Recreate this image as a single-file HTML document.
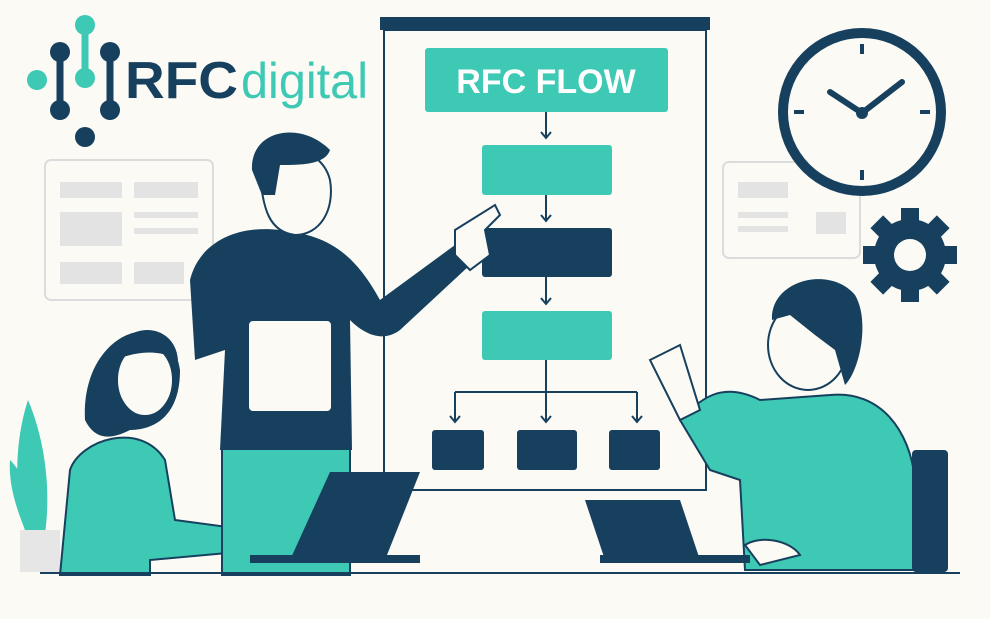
<!DOCTYPE html><html><head><style>html,body{margin:0;padding:0;background:#fbfaf5}svg{display:block}</style></head><body>
<svg width="990" height="619" viewBox="0 0 990 619" xmlns="http://www.w3.org/2000/svg">
<rect width="990" height="619" fill="#fbfaf5"/>
<!-- logo -->
<g>
<circle cx="37" cy="80" r="10" fill="#3ec9b4"/>
<line x1="85" y1="25" x2="85" y2="78" stroke="#3ec9b4" stroke-width="7"/>
<circle cx="85" cy="25" r="10" fill="#3ec9b4"/><circle cx="85" cy="78" r="10" fill="#3ec9b4"/>
<line x1="60" y1="52" x2="60" y2="110" stroke="#17405e" stroke-width="7"/>
<line x1="110" y1="52" x2="110" y2="110" stroke="#17405e" stroke-width="7"/>
<circle cx="60" cy="52" r="10" fill="#17405e"/><circle cx="60" cy="110" r="10" fill="#17405e"/>
<circle cx="110" cy="52" r="10" fill="#17405e"/><circle cx="110" cy="110" r="10" fill="#17405e"/>
<circle cx="85" cy="137" r="10" fill="#17405e"/>
<text x="125" y="98" font-family="Liberation Sans,sans-serif" font-weight="bold" font-size="52" fill="#17405e" textLength="113" lengthAdjust="spacingAndGlyphs">RFC</text>
<text x="241" y="98" font-family="Liberation Sans,sans-serif" font-size="50" fill="#3ec9b4" textLength="127" lengthAdjust="spacingAndGlyphs">digital</text>
</g>
<!-- side panels -->
<rect x="45" y="160" width="168" height="140" rx="6" fill="none" stroke="#dcdcdc" stroke-width="2"/>
<rect x="60" y="182" width="62" height="16" fill="#e3e3e3"/><rect x="134" y="182" width="64" height="16" fill="#e3e3e3"/>
<rect x="60" y="212" width="62" height="34" fill="#e3e3e3"/><rect x="134" y="212" width="64" height="6" fill="#e3e3e3"/><rect x="134" y="228" width="64" height="6" fill="#e3e3e3"/>
<rect x="60" y="262" width="62" height="22" fill="#e3e3e3"/><rect x="134" y="262" width="50" height="22" fill="#e3e3e3"/>
<rect x="723" y="162" width="137" height="96" rx="6" fill="none" stroke="#dcdcdc" stroke-width="2"/>
<rect x="738" y="182" width="50" height="16" fill="#e3e3e3"/><rect x="738" y="212" width="50" height="6" fill="#e3e3e3"/><rect x="738" y="226" width="50" height="6" fill="#e3e3e3"/><rect x="816" y="212" width="30" height="22" fill="#e3e3e3"/>
<!-- board -->
<rect x="380" y="17" width="330" height="13" fill="#17405e"/>
<rect x="384" y="30" width="322" height="460" fill="#fbfaf5" stroke="#17405e" stroke-width="2"/>
<rect x="425" y="48" width="243" height="64" rx="3" fill="#3ec9b4"/>
<text x="546" y="93" text-anchor="middle" font-family="Liberation Sans,sans-serif" font-weight="bold" font-size="34" fill="#fff">RFC FLOW</text>
<g stroke="#17405e" stroke-width="2" fill="none">
<path d="M546 112v26M541 132l5 6 5-6M546 195v26M541 215l5 6 5-6M546 277v27M541 298l5 6 5-6M546 360v32M455 392h182M455 392v30M637 392v30M546 392v30M450 416l5 6 5-6M541 416l5 6 5-6M632 416l5 6 5-6"/>
</g>
<rect x="482" y="145" width="130" height="50" rx="3" fill="#3ec9b4"/>
<rect x="482" y="228" width="130" height="49" rx="3" fill="#17405e"/>
<rect x="482" y="311" width="130" height="49" rx="3" fill="#3ec9b4"/>
<rect x="432" y="430" width="52" height="40" rx="3" fill="#17405e"/>
<rect x="517" y="430" width="60" height="40" rx="3" fill="#17405e"/>
<rect x="609" y="430" width="51" height="40" rx="3" fill="#17405e"/>
<!-- clock -->
<circle cx="862" cy="112" r="84" fill="#17405e"/><circle cx="862" cy="112" r="74" fill="#fbfaf5"/>
<path d="M862 113 L830 92 M862 113 L902 82" stroke="#17405e" stroke-width="6" stroke-linecap="round"/>
<circle cx="862" cy="113" r="6" fill="#17405e"/>
<g stroke="#17405e" stroke-width="4"><path d="M862 44v10M862 170v10M794 112h10M920 112h10"/></g>
<!-- gear -->
<g transform="translate(910,255)" fill="#17405e">
<circle r="36"/>
<g><rect x="-9" y="-47" width="18" height="94"/><rect x="-9" y="-47" width="18" height="94" transform="rotate(45)"/><rect x="-9" y="-47" width="18" height="94" transform="rotate(90)"/><rect x="-9" y="-47" width="18" height="94" transform="rotate(135)"/></g>
<circle r="16" fill="#fbfaf5"/>
</g>
<!-- plant -->
<path d="M35 560 C10 500 15 440 28 400 C45 440 55 500 40 560Z" fill="#3ec9b4"/>
<path d="M38 560 C20 520 8 490 10 460 C30 480 40 520 42 560Z" fill="#3ec9b4"/>
<rect x="20" y="530" width="40" height="42" fill="#e6e6e6"/>
<!-- woman -->
<path d="M60 575 L70 470 C80 440 140 420 165 460 L175 520 L250 530 L260 550 L150 560 L150 575Z" fill="#3ec9b4" stroke="#17405e" stroke-width="2"/>
<path d="M85 420 C80 330 170 300 180 370 C180 420 150 430 130 430 C110 440 95 440 85 420Z" fill="#17405e"/>
<ellipse cx="145" cy="380" rx="28" ry="36" fill="#fbfaf5" stroke="#17405e" stroke-width="2"/>
<path d="M115 360 C120 320 175 320 178 360 C160 350 140 350 115 360Z" fill="#17405e"/>
<!-- man standing -->
<rect x="222" y="440" width="128" height="135" fill="#3ec9b4" stroke="#17405e" stroke-width="2"/>
<path d="M190 280 C200 240 240 225 280 230 C320 235 350 245 380 300 L455 245 L470 265 L400 330 C380 345 360 330 350 320 L352 450 L220 450 L225 350 L195 360Z" fill="#17405e"/>
<rect x="248" y="320" width="84" height="92" rx="5" fill="#fbfaf5" stroke="#17405e" stroke-width="2"/>
<path d="M455 230 L495 205 L500 215 L485 230 L490 255 L470 270 L455 255Z" fill="#fbfaf5" stroke="#17405e" stroke-width="2"/>
<path d="M260 170 C260 140 320 140 330 180 C335 210 320 235 295 235 C270 232 262 210 260 170Z" fill="#fbfaf5" stroke="#17405e" stroke-width="2"/>
<path d="M252 170 C250 130 300 120 330 150 C325 165 300 165 280 165 L275 195 L262 195Z" fill="#17405e"/>
<!-- laptop left -->
<path d="M330 472 L420 472 L385 560 L290 560Z" fill="#17405e"/>
<rect x="250" y="555" width="170" height="8" fill="#17405e"/>
<!-- seated man -->
<path d="M680 420 C700 400 720 380 760 400 L830 395 C880 390 910 430 915 480 L920 570 L745 570 L740 480 L710 470Z" fill="#3ec9b4" stroke="#17405e" stroke-width="2"/>
<rect x="912" y="450" width="36" height="122" rx="4" fill="#17405e"/>
<path d="M650 360 L680 345 L700 410 L680 420 Z" fill="#fbfaf5" stroke="#17405e" stroke-width="2"/>
<ellipse cx="808" cy="345" rx="40" ry="45" fill="#fbfaf5" stroke="#17405e" stroke-width="2"/>
<path d="M772 320 C770 280 830 265 855 295 C870 320 860 370 845 385 L835 350 L815 335 L790 315Z" fill="#17405e"/>
<path d="M585 500 L680 500 L700 560 L605 560Z" fill="#17405e"/>
<rect x="600" y="555" width="150" height="8" fill="#17405e"/>
<path d="M745 545 C760 535 790 540 800 555 L760 565Z" fill="#fbfaf5" stroke="#17405e" stroke-width="2"/>
<!-- table -->
<line x1="40" y1="573" x2="960" y2="573" stroke="#17405e" stroke-width="2"/>
</svg>
</body></html>
